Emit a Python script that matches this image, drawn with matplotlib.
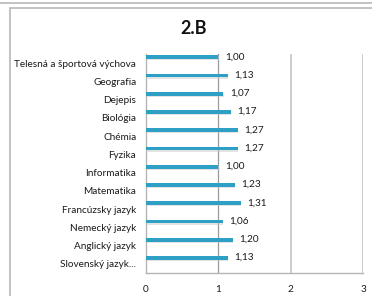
import matplotlib.pyplot as plt
import matplotlib.patheffects as pe
from matplotlib.patches import Rectangle
from matplotlib.lines import Line2D

# Data
subjects = ["Telesná a športová výchova", "Geografia", "Dejepis", "Biológia",
            "Chémia", "Fyzika", "Informatika", "Matematika", "Francúzsky jazyk",
            "Nemecký jazyk", "Anglický jazyk", "Slovenský jazyk..."]
values = [1.00, 1.13, 1.07, 1.17, 1.27, 1.27, 1.00, 1.23, 1.31, 1.06, 1.20, 1.13]
xticks = [0, 1, 2, 3]

plt.rcParams['font.family'] = ['Lato', 'DejaVu Sans']

fig = plt.figure(figsize=(3.72, 2.96), dpi=100)

# outer chart frame (partly clipped) and box above
fig.add_artist(Rectangle((10 / 372, -0.1), 1.2, 1 - 8 / 296 + 0.1,
                         transform=fig.transFigure, fill=False,
                         edgecolor='#bdbdbd', linewidth=1.3))
fig.add_artist(Line2D([0, 1], [1 - 3 / 296] * 2, transform=fig.transFigure,
                      color='#bdbdbd', linewidth=1.3))

ax = fig.add_axes([146 / 372, 1 - 273 / 296, 217 / 372, 219 / 296])

ypos = list(range(len(subjects)))
bars = ax.barh([y - 0.32 for y in ypos], values, height=0.21, color='#2e9fc5',
               zorder=3)
for b in bars:
    b.set_path_effects([pe.SimplePatchShadow(offset=(0.3, -0.8),
                                             shadow_rgbFace='#c8c8c8', alpha=0.5),
                        pe.Normal()])

for y, v in zip(ypos, values):
    ax.text(v + 0.09, y - 0.34, f"{v:.2f}".replace('.', ','), va='center',
            ha='left', fontsize=7.2, color='#1a1a1a')

ax.set_xlim(0, 3)
ax.set_ylim(len(subjects) - 0.5, -0.5)
ax.set_xticks(xticks)
ax.set_yticks(ypos)
ax.set_yticklabels(subjects, fontsize=7.2, color='#1a1a1a')
ax.tick_params(axis='x', labelsize=7.2, colors='#1a1a1a', length=0, pad=9)
ax.tick_params(axis='y', length=0, pad=7)

ax.axvline(1, color='#9a9a9a', linewidth=0.9, zorder=1)
ax.axvline(2, color='#c4c4c4', linewidth=1.2, zorder=1)
ax.axvline(3, color='#c4c4c4', linewidth=1.2, zorder=1)

for s in ['top', 'right']:
    ax.spines[s].set_visible(False)
ax.spines['left'].set_color('#b5b5b5')
ax.spines['bottom'].set_color('#b5b5b5')
ax.spines['left'].set_linewidth(1.0)
ax.spines['bottom'].set_linewidth(1.0)

fig.text(194 / 372, 1 - 29 / 296, "2.B", ha='center', va='center',
         fontsize=13, fontweight='bold', color='#111111')

fig.savefig("out.png", dpi=100)
